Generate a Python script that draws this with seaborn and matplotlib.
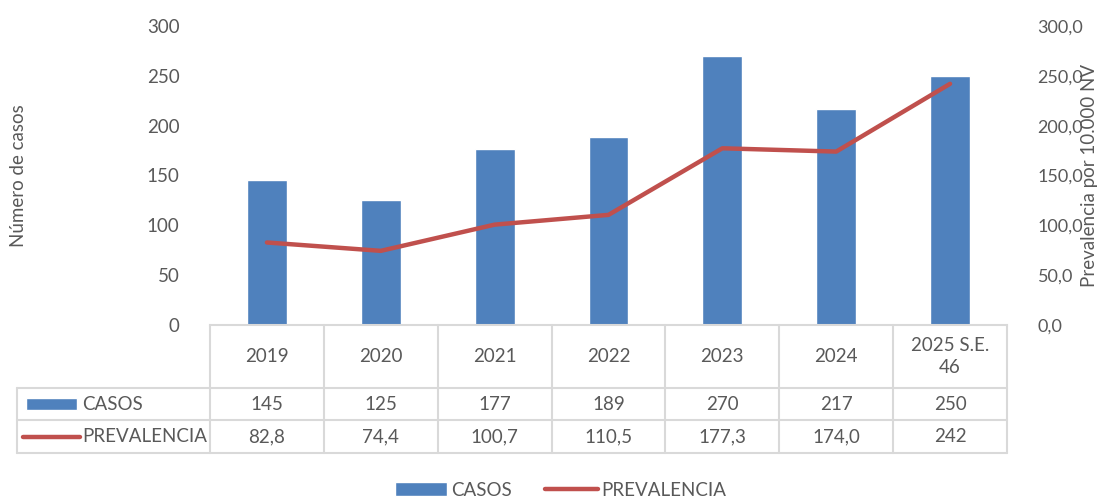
import matplotlib
matplotlib.use("Agg")
import matplotlib.pyplot as plt
import numpy as np
import pandas as pd
import seaborn as sns
from matplotlib.lines import Line2D
from matplotlib.patches import Patch, Rectangle

years = ["2019", "2020", "2021", "2022", "2023", "2024", "2025 S.E.\n46"]
casos = [145, 125, 177, 189, 270, 217, 250]
prevalencia = [82.8, 74.4, 100.7, 110.5, 177.3, 174.0, 242.0]
prev_labels = ["82,8", "74,4", "100,7", "110,5", "177,3", "174,0", "242"]
left_ticks = [0, 50, 100, 150, 200, 250, 300]
right_ticks = [0, 50, 100, 150, 200, 250, 300]

BLUE = "#4F81BD"
RED = "#C0504D"
TXT = "#595959"
GRID = "#D9D9D9"
FS = 13.5

sns.set_style("white")
plt.rcParams["font.family"] = ["Lato", "DejaVu Sans"]

df = pd.DataFrame({"anio": years, "casos": casos, "prev": prevalencia})

fig = plt.figure(figsize=(10.97, 5.04), dpi=100)
ax = fig.add_axes([210 / 1097, 1 - 325 / 504, 797 / 1097, 299 / 504])

sns.barplot(data=df, x="anio", y="casos", color=BLUE, width=0.35,
            saturation=1, ax=ax, zorder=2)
ax.set_ylim(0, 300)
ax.set_xlim(-0.5, len(years) - 0.5)
ax.set_yticks(left_ticks)
ax.set_yticklabels([str(t) for t in left_ticks], fontsize=FS, color=TXT)
ax.tick_params(axis="y", length=0, pad=22)
ax.set_xticks([])
ax.set_xlabel("")
ax.set_ylabel("Número de casos", fontsize=FS, color=TXT, labelpad=0)
ax.yaxis.set_label_coords(-0.229, 0.5)
for s in ["left", "right", "top"]:
    ax.spines[s].set_visible(False)
ax.spines["bottom"].set_color(GRID)
ax.spines["bottom"].set_linewidth(1.5)

ax2 = ax.twinx()
sns.lineplot(x=np.arange(len(years)), y=prevalencia, color=RED, linewidth=3.2,
             ax=ax2, zorder=3)
ax2.set_ylim(0, 300)
ax2.set_yticks(right_ticks)
ax2.set_yticklabels([f"{t:.1f}".replace(".", ",") for t in right_ticks],
                    fontsize=13, color=TXT)
ax2.tick_params(axis="y", length=0, pad=22)
ax2.set_ylabel("Prevalencia por 10.000 NV", fontsize=FS, color=TXT)
ax2.yaxis.set_label_coords(1.093, 0.5)
for s in ax2.spines.values():
    s.set_visible(False)

# data table under the axes
tr = ax.get_xaxis_transform()
n = len(years)
y_head = -63 / 299
y_casos = -95 / 299
y_prev = -128 / 299
x_lab = -0.5 + (17 - 210) / (797 / n)
lkw = dict(color=GRID, linewidth=1.5, transform=tr, clip_on=False)
for i in range(n + 1):
    ax.add_line(Line2D([i - 0.5, i - 0.5], [0, y_prev], **lkw))
ax.add_line(Line2D([x_lab, x_lab], [y_head, y_prev], **lkw))
for yy in [y_head, y_casos, y_prev]:
    ax.add_line(Line2D([x_lab, n - 0.5], [yy, yy], **lkw))

for i, yr in enumerate(years):
    ax.text(i, y_head / 2, yr, transform=tr, ha="center", va="center",
            fontsize=FS, color=TXT, linespacing=1.3)
    ax.text(i, (y_head + y_casos) / 2, str(casos[i]), transform=tr,
            ha="center", va="center", fontsize=FS, color=TXT)
    ax.text(i, (y_casos + y_prev) / 2, prev_labels[i], transform=tr,
            ha="center", va="center", fontsize=FS, color=TXT)

# table row keys
ax.add_patch(Rectangle((x_lab + 0.08, (y_head + y_casos) / 2 - 0.02), 0.45, 0.04,
                       facecolor=BLUE, transform=tr, clip_on=False))
ax.add_line(Line2D([x_lab + 0.05, x_lab + 0.55], [(y_casos + y_prev) / 2] * 2,
                   color=RED, linewidth=3.2, solid_capstyle="round",
                   transform=tr, clip_on=False))
ax.text(x_lab + 0.57, (y_head + y_casos) / 2, "CASOS", transform=tr,
        ha="left", va="center", fontsize=FS, color=TXT)
ax.text(x_lab + 0.57, (y_casos + y_prev) / 2, "PREVALENCIA", transform=tr,
        ha="left", va="center", fontsize=FS, color=TXT)

handles = [Patch(facecolor=BLUE, label="CASOS"),
           Line2D([], [], color=RED, linewidth=3.2, label="PREVALENCIA")]
fig.legend(handles=handles, loc="center", bbox_to_anchor=(0.511, 1 - 490 / 504),
           ncol=2, frameon=False, fontsize=FS, labelcolor=TXT,
           handlelength=2.8, handleheight=0.7, handletextpad=0.2,
           columnspacing=1.8)

fig.savefig("out.png", dpi=100)
